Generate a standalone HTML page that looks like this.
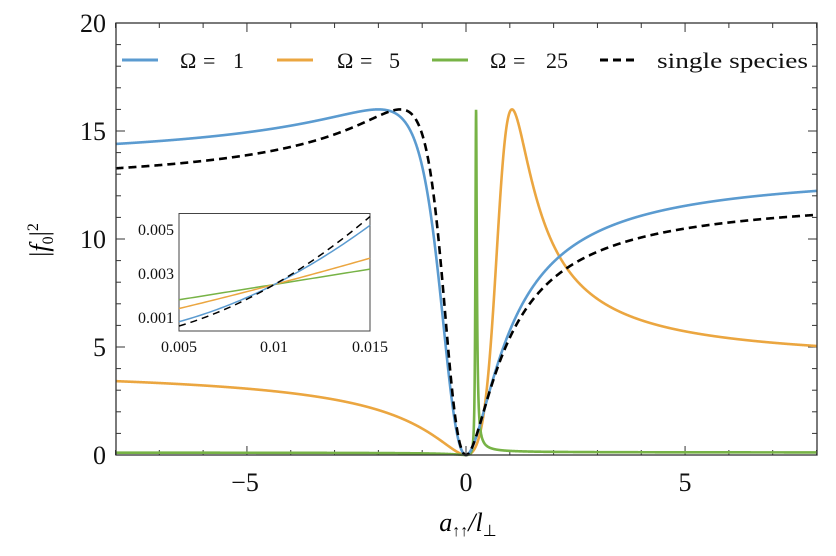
<!DOCTYPE html>
<html><head><meta charset="utf-8"><style>
body{margin:0;background:#fff;}
svg{display:block;font-family:"Liberation Serif",serif;}
</style></head><body>
<svg id="s" width="836" height="556" viewBox="0 0 836 556" xmlns="http://www.w3.org/2000/svg">
<rect width="836" height="556" fill="#fff"/>
<g id="ticks" stroke="#333" stroke-width="1"></g>
<g id="curves" fill="none" stroke-width="2.6"></g>
<rect x="116" y="23" width="701" height="432" fill="none" stroke="#333" stroke-width="1.3"/>
<g font-size="26" text-anchor="end" fill="#111">
<text x="106" y="32">20</text><text x="106" y="140">15</text><text x="106" y="248">10</text><text x="106" y="356">5</text><text x="106" y="464">0</text>
</g>
<g font-size="26" text-anchor="middle" fill="#111">
<text x="245" y="491">−5</text><text x="466" y="491">0</text><text x="685" y="491">5</text>
</g>
<text x="468" y="531" font-size="26" text-anchor="middle" font-style="italic">a<tspan font-size="16" dy="5" font-style="normal">↑↑</tspan><tspan dy="-5">/l</tspan><tspan font-size="16" dy="5" font-style="normal">⊥</tspan></text>
<text transform="translate(48,240) rotate(-90)" font-size="26" text-anchor="middle">|<tspan font-style="italic">f</tspan><tspan font-size="16" dy="5">0</tspan><tspan dy="-5">|</tspan><tspan font-size="16" dy="-10">2</tspan></text>
<g stroke-width="3">
<line x1="122" y1="60" x2="158" y2="60" stroke="#5b9bd0"/>
<line x1="277" y1="60" x2="313" y2="60" stroke="#eba640"/>
<line x1="432" y1="60" x2="468" y2="60" stroke="#77b346"/>
<line x1="600" y1="60" x2="638" y2="60" stroke="#000" stroke-dasharray="8,5"/>
</g>
<g font-size="22" fill="#111">
<text x="180" y="68">Ω</text><text x="203" y="68">=</text><text x="233" y="68">1</text>
<text x="337" y="68">Ω</text><text x="360" y="68">=</text><text x="389" y="68">5</text>
<text x="490" y="68">Ω</text><text x="513" y="68">=</text><text x="546" y="68">25</text>
<text x="657" y="68" textLength="151" lengthAdjust="spacingAndGlyphs">single species</text>
</g>
<rect x="179" y="213.5" width="191" height="117.5" fill="#fff" stroke="#444" stroke-width="1"/>
<g id="inset" fill="none" stroke-width="1.5"></g>
<g font-size="16" text-anchor="end" fill="#111">
<text x="174" y="235">0.005</text><text x="174" y="279">0.003</text><text x="174" y="323">0.001</text>
</g>
<g font-size="16" text-anchor="middle" fill="#111">
<text x="179" y="352">0.005</text><text x="274" y="352">0.01</text><text x="370" y="352">0.015</text>
</g>
</svg>
<script>
var NS="http://www.w3.org/2000/svg";
function el(p,t,a){var e=document.createElementNS(NS,t);for(var k in a)e.setAttribute(k,a[k]);p.appendChild(e);return e;}
var X=function(a){return 466+a*43.8125;},Y=function(v){return 455-v*21.6;};
var tk=document.getElementById('ticks');
for(var i=-8;i<=8;i++){var x=X(i),L=(i%5==0)?9:5;el(tk,'line',{x1:x,y1:455,x2:x,y2:455-L});el(tk,'line',{x1:x,y1:23,x2:x,y2:23+L});}
for(var j=0;j<=20;j++){var y=Y(j),L=(j%5==0)?9:5;el(tk,'line',{x1:116,y1:y,x2:116+L,y2:y});el(tk,'line',{x1:817,y1:y,x2:817-L,y2:y});}
function f(a,k,s){if(Math.abs(a)<1e-9)return 0;var t=1/a+k;return 16/(1+s*t*t);}
var cv=document.getElementById('curves');
function curve(k,s,col,dash){var d="";var N=6000;for(var n=0;n<=N;n++){var a=-8+16*n/N;var v=f(a,k,s);d+=(n?"L":"M")+X(a).toFixed(2)+","+Y(v).toFixed(2);}
var at={d:d,stroke:col};if(dash)at['stroke-dasharray']=dash;el(cv,'path',at);}
curve(-1/1.05,3.17,'#eba640');
curve(-1/0.23,7.4,'#77b346');
curve(0.5,0.79,'#5b9bd0');
curve(0.667,0.70,'#000','8,5');
var ins=document.getElementById('inset');
function IX(a){return 179+(a-0.005)*19100;}function IY(v){return 229.7+(0.005-v)*21900;}
function il(v0,v1,c,col,dash){var d="";for(var n=0;n<=50;n++){var t=n/50,a=0.005+0.01*t;var lin=v0+(v1-v0)*t;var mid=0.0025;var base=v0+(v1-v0)*0.5;var v=lin+(mid-base)*4*t*(1-t);d+=(n?"L":"M")+IX(a).toFixed(2)+","+IY(v).toFixed(2);}var at={d:d,stroke:col};if(dash)at['stroke-dasharray']=dash;el(ins,'path',at);}
il(0.0018,0.0032,0,'#77b346');
il(0.0014,0.0037,0,'#eba640');
il(0.0008,0.0052,0,'#5b9bd0');
il(0.0006,0.0056,0,'#000','7,5');
</script>
</body></html>
